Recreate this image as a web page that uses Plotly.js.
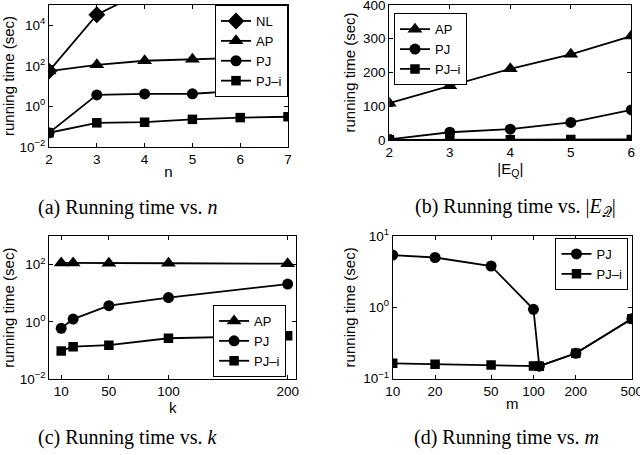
<!DOCTYPE html>
<html><head><meta charset="utf-8">
<script src="https://cdn.plot.ly/plotly-3.0.1.min.js"></script>
<style>html,body{margin:0;padding:0;background:#fff}#p{width:640px;height:455px}</style>
</head><body><div id="p"></div>
<script>
// (a) running time vs n
const nVals = [2, 3, 4, 5, 6, 7];
const nValsNL = [2, 3, 4];
const a_NL = [55, 33000, 500000];
const a_AP = [55, 112, 178, 214, 250, 350];
const a_PJ = [0.05, 3.7, 4.1, 4.2, 5.8, 6.8];
const a_PJi = [0.05, 0.155, 0.166, 0.23, 0.28, 0.31];
// (b) running time vs |E_Q|
const eqVals = [2, 3, 4, 5, 6];
const b_AP = [109, 161, 211, 254, 308];
const b_PJ = [2, 23, 32, 52, 89];
const b_PJi = [0.5, 0.8, 1, 1.2, 1.5];
// (c) running time vs k
const kVals = [10, 20, 50, 100, 200];
const c_AP = [115, 115, 113, 112, 108];
const c_PJ = [0.6, 1.26, 3.7, 7.1, 21];
const c_PJi = [0.098, 0.138, 0.155, 0.27, 0.33];
// (d) running time vs m
const mValsPJ = [10, 20, 50, 100, 110, 200, 500];
const d_PJ = [5.4, 5.0, 3.8, 0.94, 0.15, 0.227, 0.69];
const mValsPJi = [10, 20, 50, 100, 110, 200, 500];
const d_PJi = [0.164, 0.159, 0.155, 0.151, 0.15, 0.227, 0.69];

const logTicks = [0.01, 1, 100, 10000];
const logText = ['10<sup>−2</sup>', '10<sup>0</sup>', '10<sup>2</sup>', '10<sup>4</sup>'];
const cTicks = [0.01, 1, 100];
const cText = ['10<sup>−2</sup>', '10<sup>0</sup>', '10<sup>2</sup>'];
const dTicks = [0.1, 1, 10];
const dText = ['10<sup>−1</sup>', '10<sup>0</sup>', '10<sup>1</sup>'];
const mTicks = [10, 20, 50, 100, 200, 500];
const mText = ['10', '20', '50', '100', '200', '500'];

const LW = 1.8;
function tr(x, y, name, sym, size, xa, ya, lg) {
  return {x: x, y: y, name: name, type: 'scatter', mode: 'lines+markers',
    line: {color: '#000', width: LW},
    marker: {symbol: sym, size: size, color: '#000'},
    xaxis: xa, yaxis: ya, legend: lg};
}
const data = [
  tr(nValsNL, a_NL, 'NL', 'diamond', 13, 'x', 'y', 'legend'),
  tr(nVals, a_AP, 'AP', 'triangle-up', 13, 'x', 'y', 'legend'),
  tr(nVals, a_PJ, 'PJ', 'circle', 11, 'x', 'y', 'legend'),
  tr(nVals, a_PJi, 'PJ–i', 'square', 9.5, 'x', 'y', 'legend'),
  tr(eqVals, b_AP, 'AP', 'triangle-up', 13, 'x2', 'y2', 'legend2'),
  tr(eqVals, b_PJ, 'PJ', 'circle', 11, 'x2', 'y2', 'legend2'),
  tr(eqVals, b_PJi, 'PJ–i', 'square', 9.5, 'x2', 'y2', 'legend2'),
  tr(kVals, c_AP, 'AP', 'triangle-up', 13, 'x3', 'y3', 'legend3'),
  tr(kVals, c_PJ, 'PJ', 'circle', 11, 'x3', 'y3', 'legend3'),
  tr(kVals, c_PJi, 'PJ–i', 'square', 9.5, 'x3', 'y3', 'legend3'),
  tr(mValsPJ, d_PJ, 'PJ', 'circle', 11, 'x4', 'y4', 'legend4'),
  tr(mValsPJi, d_PJi, 'PJ–i', 'square', 9.5, 'x4', 'y4', 'legend4')
];

const SANS = 'Liberation Sans, Arial, sans-serif';
const F = {family: SANS, size: 13.5, color: '#000'};
const FT = {family: SANS, size: 15, color: '#000'};
const FL = {family: SANS, size: 13, color: '#000'};
function ax(o) {
  return Object.assign({showline: true, linecolor: '#000', linewidth: 1, mirror: 'allticks',
    ticks: 'inside', ticklen: 4, tickcolor: '#000', showgrid: false, zeroline: false,
    tickfont: F, ticklabeloverflow: 'allow', fixedrange: true}, o);
}
const ytitle = (s) => ({text: 'running time (sec)', font: FT, standoff: s});
function leg(x, y, xa, ya) {
  return {x: x, y: y, xanchor: xa, yanchor: ya, bgcolor: '#fff', bordercolor: '#000',
    borderwidth: 1, font: FL, itemwidth: 30, tracegroupgap: 0, itemclick: false};
}
const layout = {
  width: 640, height: 455, margin: {l: 0, r: 0, t: 0, b: 0},
  paper_bgcolor: '#fff', plot_bgcolor: '#fff', font: F, showlegend: true,
  xaxis: ax({domain: [0.0766, 0.45], range: [2, 7], tickvals: nVals, anchor: 'y',
    title: {text: 'n', font: FT, standoff: 0}}),
  yaxis: ax({domain: [0.677, 0.989], type: 'log', range: [-2, 5], tickvals: logTicks, ticktext: logText,
    anchor: 'x', title: ytitle(3)}),
  xaxis2: ax({domain: [0.6083, 0.9864], range: [2, 6], tickvals: eqVals, anchor: 'y2',
    title: {text: '|E<sub>Q</sub>|', font: FT, standoff: 0}}),
  yaxis2: ax({domain: [0.6923, 0.989], range: [0, 400], tickvals: [0, 100, 200, 300, 400], anchor: 'x2',
    title: ytitle(3)}),
  xaxis3: ax({domain: [0.077, 0.4625], range: [0, 207], tickvals: [10, 50, 100, 200], anchor: 'y3',
    title: {text: 'k', font: FT, standoff: 0}}),
  yaxis3: ax({domain: [0.1664, 0.4813], type: 'log', range: [-2, 3], tickvals: cTicks, ticktext: cText,
    anchor: 'x3', title: ytitle(3)}),
  xaxis4: ax({domain: [0.6136, 0.9875], type: 'log', range: [1, Math.log10(500) + 0.001],
    tickvals: mTicks, ticktext: mText, anchor: 'y4',
    title: {text: 'm', font: FT, standoff: 0}}),
  yaxis4: ax({domain: [0.1677, 0.4813], type: 'log', range: [-1, 1], tickvals: dTicks, ticktext: dText,
    anchor: 'x4', title: ytitle(3)}),
  legend: leg(0.45, 0.989, 'right', 'top'),
  legend2: leg(0.6156, 0.971, 'left', 'top'),
  legend3: leg(0.447, 0.1714, 'right', 'bottom'),
  legend4: leg(0.982, 0.477, 'right', 'top'),
  annotations: [
    {text: '(a) Running time vs. <i>n</i>', x: 36 / 640, y: 1 - 208 / 455},
    {text: '(b) Running time vs. |<i>E</i><sub>𝒬</sub>|', x: 413 / 640, y: 1 - 208 / 455},
    {text: '(c) Running time vs. <i>k</i>', x: 36 / 640, y: 1 - 437 / 455},
    {text: '(d) Running time vs. <i>m</i>', x: 412 / 640, y: 1 - 437 / 455}
  ].map(a => Object.assign({xref: 'paper', yref: 'paper', xanchor: 'left', yanchor: 'middle',
    showarrow: false, font: {family: 'Liberation Serif, Times New Roman, serif', size: 20, color: '#000'}}, a))
};
Plotly.newPlot('p', data, layout, {displayModeBar: false, staticPlot: true});
</script></body></html>
